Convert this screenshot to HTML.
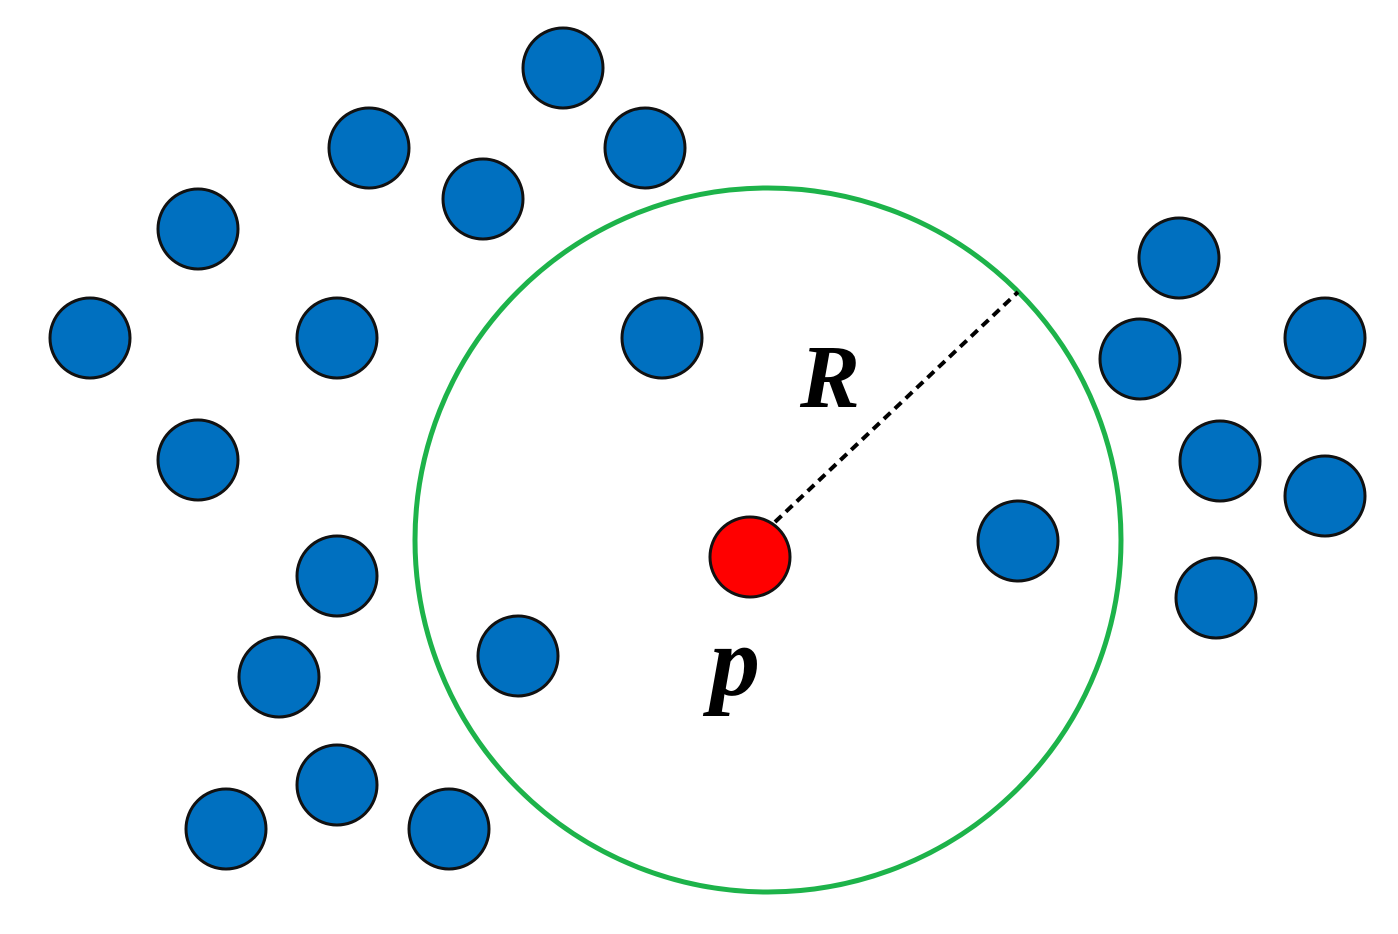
<!DOCTYPE html>
<html><head><style>body{margin:0;background:#fff}svg{display:block}</style></head>
<body>
<svg width="1398" height="934" viewBox="0 0 1398 934" xmlns="http://www.w3.org/2000/svg">
<g fill="#0070c0" stroke="#111" stroke-width="3">
<circle cx="563" cy="68" r="40"/>
<circle cx="645" cy="148" r="40"/>
<circle cx="369" cy="148" r="40"/>
<circle cx="483" cy="199" r="40"/>
<circle cx="198" cy="229" r="40"/>
<circle cx="90" cy="338" r="40"/>
<circle cx="337" cy="338" r="40"/>
<circle cx="662" cy="338" r="40"/>
<circle cx="198" cy="460" r="40"/>
<circle cx="337" cy="576" r="40"/>
<circle cx="518" cy="656" r="40"/>
<circle cx="279" cy="677" r="40"/>
<circle cx="337" cy="785" r="40"/>
<circle cx="226" cy="829" r="40"/>
<circle cx="449" cy="829" r="40"/>
<circle cx="1018" cy="541" r="40"/>
<circle cx="1179" cy="258" r="40"/>
<circle cx="1140" cy="359" r="40"/>
<circle cx="1325" cy="338" r="40"/>
<circle cx="1220" cy="461" r="40"/>
<circle cx="1325" cy="496" r="40"/>
<circle cx="1216" cy="598" r="40"/>
</g>
<ellipse cx="768" cy="540" rx="353" ry="352" fill="none" stroke="#1db34a" stroke-width="5"/>
<line x1="775" y1="522" x2="1018" y2="292" stroke="#000" stroke-width="4" stroke-dasharray="9,6"/>
<circle cx="750" cy="557" r="40" fill="#ff0000" stroke="#111" stroke-width="3"/>
<text x="800" y="407" font-family="Liberation Serif, serif" font-style="italic" font-weight="bold" font-size="90">R</text>
<text x="710" y="695" font-family="Liberation Serif, serif" font-style="italic" font-weight="bold" font-size="100">p</text>
</svg>
</body></html>
